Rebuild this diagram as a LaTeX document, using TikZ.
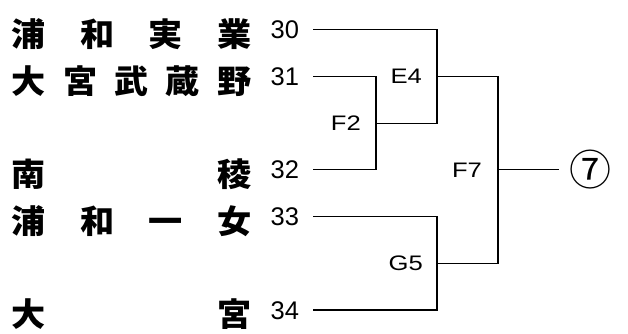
\documentclass[tikz,border=0pt]{standalone}
\usepackage{fontspec}
\setmainfont{Liberation Sans}
\newfontfamily\kfont{Noto Sans CJK JP}[FakeStretch=1.05]
\newfontfamily\cfont{Noto Sans CJK JP}
\newfontfamily\lfont{Liberation Sans}[FakeStretch=1.22]
\begin{document}
\begin{tikzpicture}[x=1pt,y=-1pt,
  team/.style={anchor=base west,inner sep=0pt,font=\kfont\bfseries\fontsize{32.5}{32.5}\selectfont},
  num/.style={anchor=base east,inner sep=0pt,font=\fontsize{25.5}{25.5}\selectfont},
  lbl/.style={inner sep=0pt,font=\lfont\fontsize{21}{21}\selectfont},
  wire/.style={line width=1.1pt,line cap=rect}]
\useasboundingbox (0,0) rectangle (628,334);
% teams
\node[team] (t30) at (11.8,46.3) {\makebox[239.4pt][s]{浦\hfill 和\hfill 実\hfill 業}};
\node[team] (t31) at (11.8,93.3) {\makebox[239.4pt][s]{大\hfill 宮\hfill 武\hfill 蔵\hfill 野}};
\node[team] (t32) at (11.8,186.3) {\makebox[239.4pt][s]{南\hfill 稜}};
\node[team] (t33) at (11.8,233.3) {\makebox[239.4pt][s]{浦\hfill 和\hfill 一\hfill 女}};
\node[team] (t34) at (11.8,326.8) {\makebox[239.4pt][s]{大\hfill 宮}};
% numbers
\node[num] (n30) at (299.3,38.5) {30};
\node[num] (n31) at (299.3,85.5) {31};
\node[num] (n32) at (299.3,178.5) {32};
\node[num] (n33) at (299.3,225.5) {33};
\node[num] (n34) at (299.3,319.2) {34};
% line starts
\coordinate (s30) at (313.3,29.3);
\coordinate (s31) at (313.3,76.3);
\coordinate (s32) at (313.3,169.3);
\coordinate (s33) at (313.3,216.3);
\coordinate (s34) at (313.3,310);
% junctions
\coordinate (f2) at (376,123.3);
\coordinate (e4) at (437,76.3);
\coordinate (g5) at (437,263.3);
\coordinate (f7) at (498,169.3);
% labels
\node[lbl] (le4) at (406.2,75.8) {E4};
\node[lbl] (lf2) at (345.8,123.3) {F2};
\node[lbl] (lf7) at (467,170) {F7};
\node[lbl] (lg5) at (405.8,263.7) {G5};
% result
\node[inner sep=0pt,font=\cfont\fontsize{42}{42}\selectfont] (r7) at (590.8,169.7) {⑦};
% wires
\draw[wire] (s31) -| (f2) |- (s32);
\draw[wire] (s30) -| (e4) |- (f2);
\draw[wire] (s33) -| (g5) |- (s34);
\draw[wire] (e4) -| (f7) |- (g5);
\draw[wire] (f7) -- (558.3,169.3);
\end{tikzpicture}
\end{document}
